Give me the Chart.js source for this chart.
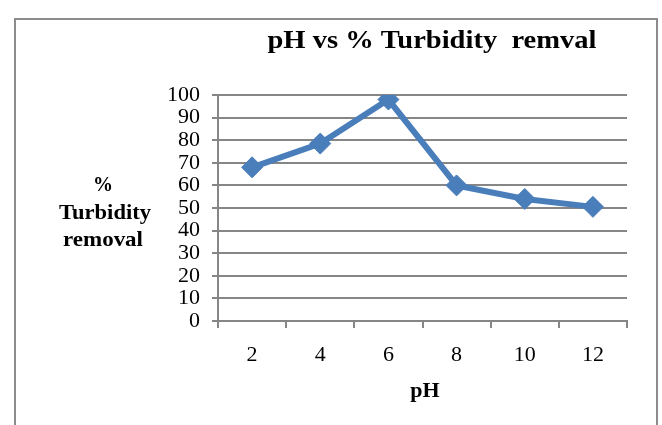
<!DOCTYPE html>
<html>
<head>
<meta charset="utf-8">
<script src="https://cdn.jsdelivr.net/npm/chart.js@4"></script>
<style>
html,body{margin:0;padding:0;background:#fff;}
#wrap{width:662px;height:425px;position:relative;}
</style>
</head>
<body>
<div id="wrap"><canvas id="c" width="662" height="425"></canvas></div>
<script>
const categories = ['2', '4', '6', '8', '10', '12'];
const removal = [68, 78.5, 98, 60, 54, 50.5];
const yTicks = [0, 10, 20, 30, 40, 50, 60, 70, 80, 90, 100];
const chartTitle = 'pH vs % Turbidity  remval';
const xTitle = 'pH';
const yTitleLines = ['%', 'Turbidity', 'removal'];

const SERIF = '"Liberation Serif", "Times New Roman", serif';
const GRID = '#868686';

function fitText(ctx, text, cx, cy, width) {
  const w = ctx.measureText(text).width;
  const s = width / w;
  ctx.save();
  ctx.translate(cx, cy);
  ctx.scale(s, 1);
  ctx.fillText(text, 0, 0);
  ctx.restore();
}

const decor = {
  id: 'decor',
  beforeDraw(chart) {
    const ctx = chart.ctx;
    ctx.save();
    ctx.fillStyle = '#fff';
    ctx.fillRect(0, 0, chart.width, chart.height);
    ctx.strokeStyle = '#8c8c8c';
    ctx.lineWidth = 2;
    ctx.strokeRect(15, 19, 642, 440);
    ctx.restore();
  },
  afterDraw(chart) {
    const ctx = chart.ctx;
    ctx.save();
    ctx.fillStyle = '#000';
    ctx.textAlign = 'center';
    ctx.textBaseline = 'alphabetic';
    ctx.font = 'bold 26px ' + SERIF;
    fitText(ctx, chartTitle, 432, 48, 329);
    ctx.font = 'bold 22px ' + SERIF;
    const ys = [191, 219, 246];
    fitText(ctx, yTitleLines[0], 103, ys[0], 20);
    fitText(ctx, yTitleLines[1], 105, ys[1], 92);
    fitText(ctx, yTitleLines[2], 103, ys[2], 80);
    ctx.fillText(xTitle, 425, 397);
    ctx.restore();
  }
};

new Chart(document.getElementById('c'), {
  type: 'line',
  data: {
    labels: categories,
    datasets: [{
      data: removal,
      borderColor: '#4a7ebb',
      backgroundColor: '#4a7ebb',
      borderWidth: 6,
      pointStyle: 'rectRot',
      pointRadius: 10.5,
      pointHoverRadius: 10.5,
      pointBorderWidth: 1,
      pointBorderColor: '#4a7ebb',
      tension: 0
    }]
  },
  options: {
    responsive: false,
    animation: false,
    devicePixelRatio: 1,
    layout: { padding: { top: 95, right: 35, left: 0, bottom: 0 } },
    plugins: { legend: { display: false }, title: { display: false }, tooltip: { enabled: false } },
    scales: {
      x: {
        type: 'category',
        offset: true,
        grid: { display: true, drawOnChartArea: false, drawTicks: true, tickLength: 7, color: GRID, lineWidth: 2, offset: true },
        border: { display: true, color: GRID, width: 2 },
        ticks: { color: '#000', font: { family: SERIF, size: 22 }, padding: 14, maxRotation: 0 },
        afterFit(s) { s.height = 104; }
      },
      y: {
        min: 0, max: 100,
        afterBuildTicks(s) { s.ticks = yTicks.map(v => ({ value: v })); },
        grid: { color: GRID, lineWidth: 2, drawTicks: true, tickLength: 6 },
        border: { display: true, color: GRID, width: 2 },
        ticks: { color: '#000', font: { family: SERIF, size: 22 }, padding: 12, autoSkip: false },
        afterFit(s) { s.width = 218; }
      }
    }
  },
  plugins: [decor]
});
</script>
</body>
</html>
